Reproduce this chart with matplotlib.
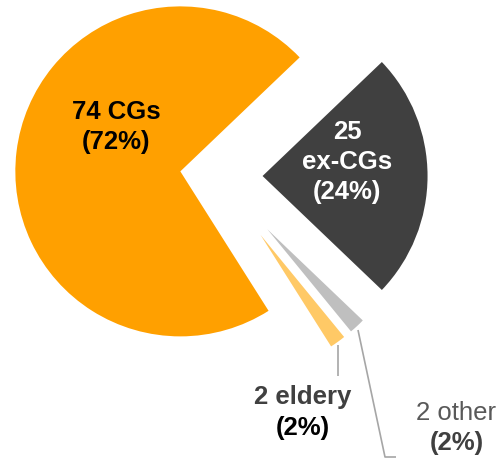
import matplotlib
matplotlib.use("Agg")
import matplotlib.pyplot as plt

# group sizes, counter-clockwise from the start angle
groups = ["CGs", "eldery", "other", "ex-CGs"]
counts = [74, 2, 2, 25]
colors = ["#FFA000", "#FFC966", "#BFBFBF", "#404040"]
explode = [0.23, 0.44, 0.44, 0.27]

plt.rcParams['font.family'] = ['Liberation Sans', 'DejaVu Sans']

W, H = 503, 464
R = 165.0          # pie radius in pixels
cx, cy = 218, 177  # pie centre in pixels (from top-left)
FS = 18.5

fig = plt.figure(figsize=(W / 100, H / 100), dpi=100)
ax = fig.add_axes([0, 0, 1, 1])

total = sum(counts)
start = 180.0 * counts[3] / total  # ex-CGs centred on the right
wedges, _ = ax.pie(counts, colors=colors, explode=explode, startangle=start,
                   counterclock=True, wedgeprops=dict(linewidth=0))
# the two tiny slices are drawn shorter
wedges[1].set_radius(0.8)
wedges[2].set_radius(0.8)

ax.set_xlim(-cx / R, (W - cx) / R)
ax.set_ylim(-(H - cy) / R, cy / R)
ax.set_aspect('equal')
ax.axis('off')


def px(x, y):
    return (x - cx) / R, (cy - y) / R


pct = [round(100 * c / total) for c in counts]

ax.text(*px(116, 127), f"{counts[0]} {groups[0]}\n({pct[0]}%)", ha='center', va='center',
        fontsize=FS, fontweight='bold', color='black', linespacing=1.32)
ax.text(*px(347, 162), f"{counts[3]}\n{groups[3]}\n({pct[3]}%)", ha='center', va='center',
        fontsize=FS, fontweight='bold', color='white', linespacing=1.33)

ax.text(*px(303, 397), f"{counts[1]} {groups[1]}", ha='center', va='center',
        fontsize=FS, fontweight='bold', color='#404040')
ax.text(*px(303, 428), f"({pct[1]}%)", ha='center', va='center',
        fontsize=FS, fontweight='bold', color='black')
ax.text(*px(456, 413), f"{counts[2]} {groups[2]}", ha='center', va='center',
        fontsize=FS, color='#595959')
ax.text(*px(457, 443), f"({pct[2]}%)", ha='center', va='center',
        fontsize=FS, fontweight='bold', color='#404040')

# leader lines
lx, ly = zip(px(338, 346), px(338, 377))
ax.plot(lx, ly, color='#A6A6A6', lw=1.2, solid_capstyle='butt')
lx, ly = zip(px(358, 331), px(385, 458), px(396, 458))
ax.plot(lx, ly, color='#A6A6A6', lw=1.2, solid_capstyle='butt')

fig.savefig("out.png", dpi=100)
